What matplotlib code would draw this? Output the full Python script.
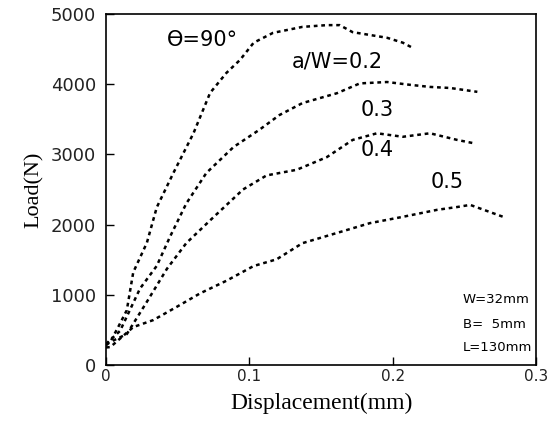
import matplotlib
matplotlib.use("Agg")
import matplotlib.pyplot as plt

# a/W = 0.2 (theta = 90 deg)
x02 = [0.0, 0.003, 0.009, 0.0145, 0.019, 0.0285, 0.0354, 0.047, 0.061, 0.0726, 0.084,
       0.0935, 0.103, 0.1165, 0.137, 0.154, 0.163, 0.172, 0.184, 0.196, 0.207, 0.214]
y02 = [280, 330, 560, 780, 1320, 1740, 2245, 2735, 3300, 3875, 4160,
       4345, 4590, 4730, 4815, 4840, 4840, 4740, 4700, 4660, 4590, 4515]
# a/W = 0.3
x03 = [0.0, 0.0098, 0.0237, 0.0354, 0.0447, 0.056, 0.070, 0.089, 0.107, 0.121, 0.137,
       0.161, 0.177, 0.196, 0.212, 0.226, 0.240, 0.259]
y03 = [300, 486, 1088, 1412, 1829, 2300, 2735, 3105, 3350, 3560, 3730,
       3870, 4010, 4030, 3990, 3960, 3945, 3890]
# a/W = 0.4
x04 = [0.0, 0.0145, 0.0285, 0.0425, 0.056, 0.0747, 0.0956, 0.112, 0.133, 0.154, 0.172,
       0.189, 0.207, 0.226, 0.245, 0.256]
y04 = [300, 440, 900, 1370, 1736, 2100, 2500, 2700, 2780, 2960, 3205,
       3300, 3250, 3300, 3205, 3160]
# a/W = 0.5
x05 = [0.0, 0.003, 0.019, 0.033, 0.0495, 0.0656, 0.084, 0.103, 0.119, 0.137, 0.161,
       0.184, 0.207, 0.231, 0.245, 0.254, 0.277]
y05 = [250, 255, 540, 640, 830, 1020, 1200, 1410, 1505, 1735, 1880,
       2020, 2110, 2210, 2250, 2280, 2110]

xticks = [0, 0.1, 0.2, 0.3]
xticklabels = ["0", "0.1", "0.2", "0.3"]
yticks = [0, 1000, 2000, 3000, 4000, 5000]
yticklabels = ["0", "1000", "2000", "3000", "4000", "5000"]

fig = plt.figure(figsize=(5.55, 4.21), dpi=100)
ax = fig.add_axes([0.191, 0.133, 0.775, 0.834])

ls = (0, (1.5, 1.5))
for xs, ys in [(x02, y02), (x03, y03), (x04, y04), (x05, y05)]:
    ax.plot(xs, ys, color="black", linewidth=1.8, linestyle=ls)

ax.set_xlim(0, 0.3)
ax.set_ylim(0, 5000)
ax.set_xticks(xticks)
ax.set_xticklabels(xticklabels)
ax.set_yticks(yticks)
ax.set_yticklabels(yticklabels)
ax.tick_params(direction="in", length=6, width=1)
ax.tick_params(axis="y", labelsize=13, pad=7)
ax.tick_params(axis="x", labelsize=11, pad=3)
for lab in ax.get_xticklabels() + ax.get_yticklabels():
    lab.set_family("DejaVu Sans")
    lab.set_color("#222222")

for s in ax.spines.values():
    s.set_linewidth(1.2)

ax.set_xlabel("Displacement(mm)", family="Liberation Serif", fontsize=17, labelpad=6)
ax.set_ylabel("Load(N)", family="Liberation Serif", fontsize=16, labelpad=5)

tkw = dict(family="DejaVu Sans", fontsize=15, color="black")
ax.text(0.067, 4630, "ϴ=90°", ha="center", va="center", **tkw)
ax.text(0.161, 4315, "a/W=0.2", ha="center", va="center", **tkw)
ax.text(0.189, 3630, "0.3", ha="center", va="center", **tkw)
ax.text(0.189, 3060, "0.4", ha="center", va="center", **tkw)
ax.text(0.238, 2600, "0.5", ha="center", va="center", **tkw)
pkw = dict(family="DejaVu Sans", fontsize=9.5, color="black")
ax.text(0.249, 930, "W=32mm", ha="left", va="center", **pkw)
ax.text(0.249, 580, "B=  5mm", ha="left", va="center", **pkw)
ax.text(0.249, 250, "L=130mm", ha="left", va="center", **pkw)

fig.savefig("out.png", dpi=100)
